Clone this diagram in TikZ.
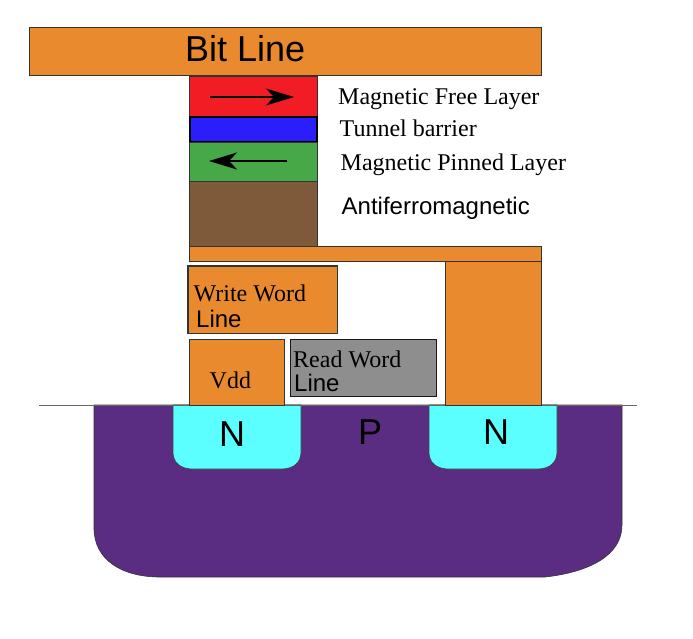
\documentclass[tikz,border=0pt]{standalone}
\usepackage{fontspec}
\setmainfont{Liberation Serif}
\setsansfont{Liberation Sans}
\usetikzlibrary{arrows.meta}
\definecolor{orangeM}{HTML}{EA8A2E}
\definecolor{redM}{HTML}{F21C24}
\definecolor{blueM}{HTML}{2A1EFA}
\definecolor{greenM}{HTML}{46A846}
\definecolor{brownM}{HTML}{7F5A3A}
\definecolor{greyM}{HTML}{8E8E8E}
\definecolor{purpleM}{HTML}{5A2D82}
\definecolor{cyanM}{HTML}{5BFFFF}
\tikzset{
  layerbox/.style={draw=black!80,line width=0.9pt},
  serifL/.style={font=\rmfamily\fontsize{#1}{#1}\selectfont,text=black,inner sep=0pt,anchor=base west},
  sansL/.style={font=\sffamily\fontsize{#1}{#1}\selectfont,text=black,inner sep=0pt,anchor=base west},
  spin/.style={line width=2.2pt,-{Stealth[length=28pt,width=17pt,inset=8pt]}}
}
\begin{document}
\begin{tikzpicture}[x=1pt,y=-1pt]
\useasboundingbox (0,0) rectangle (693,638);
\fill[white] (0,0) rectangle (693,638);
% substrate
\draw[fill=purpleM,draw=black!80,line width=0.6pt] (94,405) -- (94,528)
  .. controls (94,560) and (122,577) .. (160,577) -- (545,577)
  .. controls (590,572) and (622,555) .. (622,525) -- (622,405) -- cycle;
% wells
\draw[fill=cyanM,draw=black!75,line width=0.6pt] (173,405) -- (173,452)
  .. controls (173,463) and (181,469) .. (193,469) -- (281,469)
  .. controls (293,469) and (301,463) .. (301,452) -- (301,405) -- cycle;
\draw[fill=cyanM,draw=black!75,line width=0.6pt] (429,405) -- (429,452)
  .. controls (429,463) and (437,469) .. (449,469) -- (537,469)
  .. controls (549,469) and (557,463) .. (557,452) -- (557,405) -- cycle;
% surface line
\draw[draw=black!60,line width=0.9pt] (39,405) -- (637,405);
% bit line and stack
\draw[layerbox,fill=orangeM] (29.8,27) rectangle (541.8,75.5);
\draw[layerbox,fill=redM] (189,76) rectangle (317.8,116);
\draw[layerbox,fill=greenM] (189,142) rectangle (317.8,181);
\draw[fill=blueM,draw=black,line width=1.5pt] (190,117) rectangle (317,141.5);
\draw[layerbox,fill=brownM] (189,181) rectangle (317.8,246.5);
\draw[layerbox,fill=orangeM] (189,246.8) rectangle (541,261);
\draw[layerbox,fill=orangeM] (445,261) rectangle (541,405);
\draw[layerbox,fill=orangeM,line width=1.1pt] (188,266) rectangle (337.8,333.5);
\draw[layerbox,fill=orangeM] (189,339) rectangle (284.8,405);
\draw[layerbox,fill=greyM,draw=black!90,line width=1pt] (290.5,339.5) rectangle (436.5,396.5);
% spin arrows
\coordinate (fs) at (210,97); \coordinate (fe) at (294,97);
\coordinate (ps) at (287,161); \coordinate (pe) at (209,161);
\draw[spin] (fs) -- (fe);
\draw[spin] (ps) -- (pe);
% labels
\node[sansL=36] (bit) at (185,61) {Bit Line};
\node[serifL=24] (free) at (338,104) {Magnetic Free Layer};
\node[serifL=24] (tun) at (339.5,136) {Tunnel barrier};
\node[serifL=24] (pin) at (340.5,170) {Magnetic Pinned Layer};
\node[sansL=24] (afm) at (341.5,214) {Antiferromagnetic};
\node[serifL=24] (ww) at (193.5,301) {Write Word};
\node[sansL=24] (wl) at (196,327) {Line};
\node[serifL=24] (vdd) at (209.5,388) {Vdd};
\node[serifL=24] (rw) at (293,367) {Read Word};
\node[sansL=24] (rl) at (294,391) {Line};
\node[sansL=36] (n1) at (219,446) {N};
\node[sansL=36] (p) at (358,444) {P};
\node[sansL=36] (n2) at (483,444) {N};
\end{tikzpicture}
\end{document}
